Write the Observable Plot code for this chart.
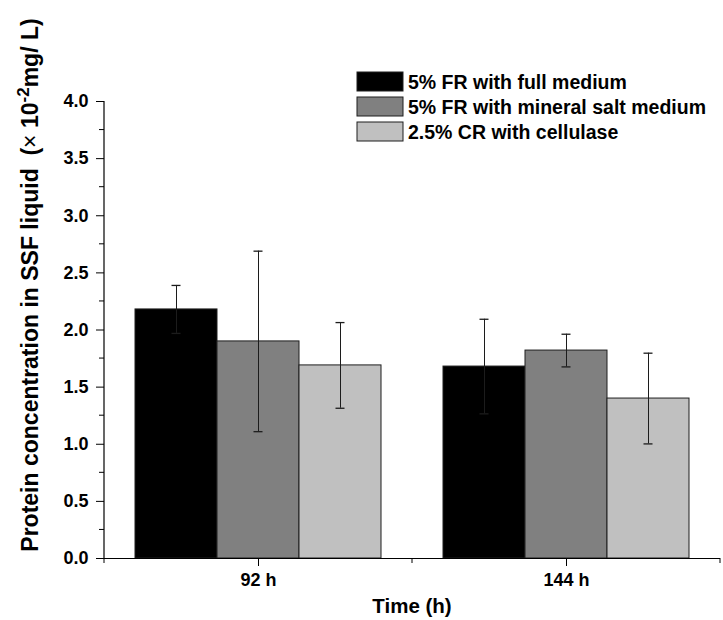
<!DOCTYPE html>
<html>
<head>
<meta charset="utf-8">
<script src="https://cdn.jsdelivr.net/npm/d3@7"></script>
<script src="https://cdn.jsdelivr.net/npm/@observablehq/plot@0.6"></script>
<style>
  html, body { margin: 0; padding: 0; background: #fff; }
  #chart { width: 723px; height: 620px; }
</style>
</head>
<body>
<div id="chart"></div>
<script>
// ---- data ----
const times = ["92 h", "144 h"];
const series = ["5% FR with full medium", "5% FR with mineral salt medium", "2.5% CR with cellulase"];
const colors = ["#000000", "#808080", "#c0c0c0"];
const means92 = [2.18, 1.90, 1.69];
const errs92 = [0.21, 0.79, 0.375];
const means144 = [1.68, 1.82, 1.40];
const errs144 = [0.414, 0.143, 0.397];
const yTicks = [0, 0.5, 1.0, 1.5, 2.0, 2.5, 3.0, 3.5, 4.0];
const yMinorTicks = [0.25, 0.75, 1.25, 1.75, 2.25, 2.75, 3.25, 3.75];
const xTitle = "Time (h)";

const means = [means92, means144];
const errs = [errs92, errs144];
const rows = [];
times.forEach((t, i) => series.forEach((s, j) => {
  rows.push({time: t, series: s, value: means[i][j], err: errs[i][j]});
}));

const font = "Arial, 'Liberation Sans', sans-serif";
const errColor = "#1c1c1c";

const plot = Plot.plot({
  width: 723,
  height: 620,
  marginLeft: 104,
  marginRight: 3,
  marginTop: 101,
  marginBottom: 62,
  style: {fontFamily: font, fontSize: "18px", fontWeight: "bold", color: "#000", background: "#fff"},
  fx: {domain: times, padding: 0, label: null, tickSize: 8, tickPadding: 7},
  x: {domain: series, paddingInner: 0, paddingOuter: 0.378, axis: null},
  y: {domain: [0, 4], ticks: yTicks, tickFormat: d3.format(".1f"), tickSize: 8, tickPadding: 8, label: null},
  color: {domain: series, range: colors},
  marks: [
    Plot.barY(rows, {fx: "time", x: "series", y: "value", fill: "series", stroke: "#1e1e1e", strokeWidth: 1, inset: 0}),
    Plot.ruleX(rows, {fx: "time", x: "series", y1: d => d.value - d.err, y2: d => d.value + d.err, stroke: errColor, strokeWidth: 1}),
    Plot.tickY(rows, {fx: "time", x: "series", y: d => d.value + d.err, stroke: errColor, strokeWidth: 1.3, insetLeft: 36.5, insetRight: 36.5}),
    Plot.tickY(rows, {fx: "time", x: "series", y: d => d.value - d.err, stroke: errColor, strokeWidth: 1.3, insetLeft: 36.5, insetRight: 36.5}),
    Plot.ruleY([0], {stroke: "#000", strokeWidth: 1.2})
  ]
});

document.getElementById("chart").appendChild(plot);

// ---- extra axis decorations via the plot's own scales ----
const svg = d3.select(plot);
const y = plot.scale("y");
const fx = plot.scale("fx");
const x0 = fx.range[0];
const x1 = fx.range[1];

// y axis line
svg.append("line")
  .attr("x1", x0).attr("x2", x0)
  .attr("y1", y.apply(0)).attr("y2", y.apply(4))
  .attr("stroke", "#000").attr("stroke-width", 1.2);

// minor y ticks
svg.append("g").selectAll("line").data(yMinorTicks).join("line")
  .attr("x1", x0 - 5).attr("x2", x0)
  .attr("y1", d => y.apply(d)).attr("y2", d => y.apply(d))
  .attr("stroke", "#000").attr("stroke-width", 1);

// x boundary ticks at group edges
const edges = [x0, ...times.map(t => fx.apply(t) + fx.bandwidth)];
svg.append("g").selectAll("line").data(edges).join("line")
  .attr("x1", d => d).attr("x2", d => d)
  .attr("y1", y.apply(0)).attr("y2", y.apply(0) + 5)
  .attr("stroke", "#000").attr("stroke-width", 1);

// x title
svg.append("text")
  .attr("x", (x0 + x1) / 2).attr("y", 613)
  .attr("text-anchor", "middle")
  .attr("font-family", font).attr("font-weight", "bold").attr("font-size", 20.5)
  .text(xTitle);

// y title
const yt = svg.append("text")
  .attr("transform", "translate(38,285) rotate(-90)")
  .attr("text-anchor", "middle")
  .attr("font-family", font).attr("font-weight", "bold").attr("font-size", 23);
yt.append("tspan").text("Protein concentration in SSF liquid  (");
yt.append("tspan").attr("font-weight", "normal").text("×");
yt.append("tspan").text(" 10");
yt.append("tspan").attr("dy", -9).attr("font-size", 17).text("-2");
yt.append("tspan").attr("dy", 9).text("mg/ L)");

// legend
const lg = svg.append("g").attr("text-anchor", "start");
series.forEach((s, i) => {
  const top = 72 + i * 25;
  lg.append("rect")
    .attr("x", 357).attr("y", top).attr("width", 46).attr("height", 19)
    .attr("fill", colors[i]).attr("stroke", "#1e1e1e").attr("stroke-width", 1);
  lg.append("text")
    .attr("x", 408).attr("y", top + 16.5)
    .attr("text-anchor", "start")
    .attr("font-family", font).attr("font-weight", "bold").attr("font-size", 19.5)
    .text(s);
});
</script>
</body>
</html>
